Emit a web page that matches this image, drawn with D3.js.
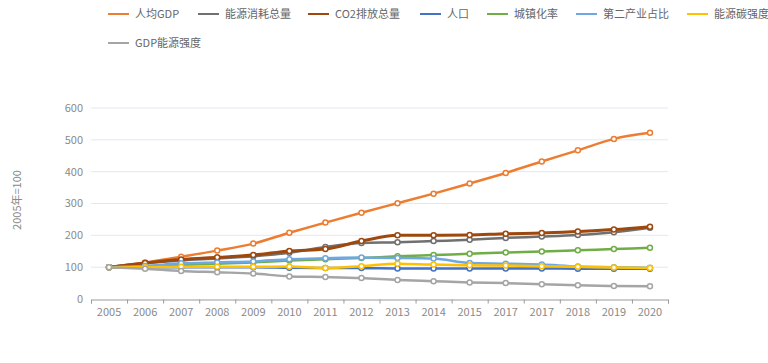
<!DOCTYPE html>
<html lang="zh">
<head>
<meta charset="UTF-8">
<title>指标变化</title>
<style>
  body { margin: 0; background: #fff; }
  svg { display: block; font-family: "Noto Sans CJK SC", "Noto Sans", sans-serif; }
</style>
</head>
<body>
<script src="https://d3js.org/d3.v7.min.js"></script>
<script>
// x-axis labels (as printed, including the repeated 2017)
const years = ["2005", "2006", "2007", "2008", "2009", "2010", "2011", "2012",
  "2013", "2014", "2015", "2017", "2017", "2018", "2019", "2020"];

const names = ["人均GDP", "能源消耗总量", "CO2排放总量", "人口", "城镇化率", "第二产业占比", "能源碳强度", "GDP能源强度"];

const gdpPerCapita = [100, 115, 133, 152, 174, 208, 240, 271, 301, 331, 363, 396, 432, 467, 503, 522];
const energyTotal = [100, 112, 121, 127, 134, 145, 163, 176, 178, 182, 186, 192, 196, 201, 210, 224];
const co2Total = [100, 113, 124, 131, 138, 151, 157, 182, 200, 200, 201, 205, 207, 212, 218, 227];
const population = [100, 100, 100, 100, 100, 98, 97, 97, 96, 96, 96, 96, 96, 95, 95, 95];
const urbanRate = [100, 103, 107, 111, 115, 121, 125, 129, 134, 138, 142, 146, 149, 153, 157, 161];
const secondaryShare = [100, 104, 112, 115, 118, 125, 128, 130, 129, 127, 113, 111, 108, 102, 100, 98];
const carbonIntensity = [100, 100, 101, 101, 101, 102, 97, 103, 111, 108, 106, 105, 103, 101, 99, 97];
const gdpEnergyIntensity = [100, 95, 88, 84, 80, 71, 69, 66, 60, 56, 52, 50, 46, 43, 41, 40];

const yTicks = [0, 100, 200, 300, 400, 500, 600];

const series = [gdpPerCapita, energyTotal, co2Total, population, urbanRate, secondaryShare, carbonIntensity, gdpEnergyIntensity];
const colors = ["#ed7d31", "#707070", "#9e480e", "#4472c4", "#70ad47", "#6fa8e0", "#ffc000", "#a5a5a5"];
const widths = [2.5, 2.5, 3, 2.5, 2.5, 2.5, 2.5, 2.5];

const W = 768, H = 363;
const plotLeft = 91, plotRight = 668, plotTop = 108, plotBottom = 299;

const svg = d3.select("body").append("svg")
  .attr("width", W).attr("height", H);

const x = d3.scaleBand().domain(d3.range(years.length)).range([plotLeft, plotRight]);
const y = d3.scaleLinear().domain([0, 600]).range([plotBottom, plotTop]);

// grid
svg.append("g")
  .selectAll("line")
  .data(yTicks.slice(1))
  .join("line")
  .attr("x1", plotLeft).attr("x2", plotRight)
  .attr("y1", d => y(d)).attr("y2", d => y(d))
  .attr("stroke", "#e3e8f2").attr("stroke-width", 1);

// y labels
svg.append("g")
  .selectAll("text")
  .data(yTicks)
  .join("text")
  .attr("x", 83).attr("y", d => y(d))
  .attr("dy", "0.35em")
  .attr("text-anchor", "end")
  .attr("fill", "#8a8a8a")
  .attr("font-size", 11)
  .text(d => d);

svg.append("text")
  .attr("transform", "translate(17,200) rotate(-90)")
  .attr("text-anchor", "middle")
  .attr("dy", "0.35em")
  .attr("fill", "#8a8a8a")
  .attr("font-size", 11)
  .text("2005年=100");

// x axis: ticks at band edges, labels at band centres
const edges = d3.scaleLinear().domain([0, years.length]).range([plotLeft, plotRight]);
const xTickAxis = svg.append("g")
  .attr("transform", `translate(0,${plotBottom + 0.5})`)
  .call(d3.axisBottom(edges).tickValues(d3.range(years.length + 1)).tickSize(4).tickFormat(""));
xTickAxis.selectAll("path, line").attr("stroke", "#9a9a9a");

const xLabelAxis = svg.append("g")
  .attr("transform", `translate(0,${plotBottom + 0.5})`)
  .call(d3.axisBottom(x).tickSize(0).tickPadding(9).tickFormat(i => years[i]));
xLabelAxis.select(".domain").remove();
xLabelAxis.selectAll("text")
  .attr("fill", "#8a8a8a")
  .attr("font-size", 11)
  .attr("font-family", "\"Noto Sans CJK SC\", \"Noto Sans\", sans-serif");

// lines
const cx = i => x(i) + x.bandwidth() / 2;
const line = d3.line()
  .x((d, i) => cx(i))
  .y(d => y(d))
  .curve(d3.curveMonotoneX);

series.forEach((vals, k) => {
  const g = svg.append("g");
  g.append("path")
    .datum(vals)
    .attr("fill", "none")
    .attr("stroke", colors[k])
    .attr("stroke-width", widths[k])
    .attr("stroke-linejoin", "round")
    .attr("d", line);
  g.selectAll("circle")
    .data(vals)
    .join("circle")
    .attr("cx", (d, i) => cx(i))
    .attr("cy", d => y(d))
    .attr("r", 2.5)
    .attr("fill", "#fff")
    .attr("stroke", colors[k])
    .attr("stroke-width", 1.5);
});

// legend
const legendPos = [
  [108, 14], [198, 14], [308, 14], [420, 14], [487, 14], [576, 14], [687, 14],
  [108, 43]
];
const legend = svg.append("g")
  .selectAll("g")
  .data(names)
  .join("g")
  .attr("transform", (d, i) => `translate(${legendPos[i][0]},${legendPos[i][1]})`);
legend.append("line")
  .attr("x1", 0).attr("x2", 21)
  .attr("stroke", (d, i) => colors[i])
  .attr("stroke-width", 2);
legend.append("text")
  .attr("x", 27).attr("dy", "0.35em")
  .attr("fill", "#666")
  .attr("font-size", 11)
  .text(d => d);
</script>
</body>
</html>
